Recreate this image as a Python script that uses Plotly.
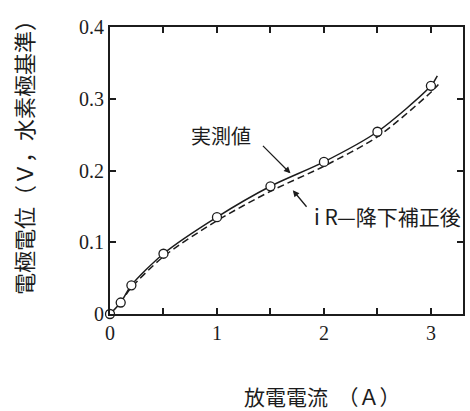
import plotly.graph_objects as go

# measured points (open circles)
current_A = [0.0, 0.1, 0.2, 0.5, 1.0, 1.5, 2.0, 2.5, 3.0]
potential_V = [0.0, 0.016, 0.040, 0.084, 0.135, 0.178, 0.212, 0.254, 0.318]

# solid curve (measured), slightly extended beyond last point
solid_x = [0.0, 0.1, 0.2, 0.5, 1.0, 1.5, 2.0, 2.5, 3.0, 3.06]
solid_y = [0.0, 0.016, 0.040, 0.084, 0.135, 0.178, 0.212, 0.254, 0.318, 0.332]

# dashed curve (after iR-drop correction)
dash_x = [0.15, 0.2, 0.5, 1.0, 1.5, 2.0, 2.5, 3.0, 3.07]
dash_y = [0.027, 0.037, 0.080, 0.130, 0.171, 0.206, 0.247, 0.309, 0.320]

x_tickvals = [0, 0.5, 1, 1.5, 2, 2.5, 3]
x_ticktext = ["0", "", "1", "", "2", "", "3"]
y_tickvals = [0, 0.1, 0.2, 0.3, 0.4]
y_ticktext = ["0", "0.1", "0.2", "0.3", "0.4"]

label_measured = "実測値"
label_corrected = "i R—降下補正後"
x_title = "放電電流\u00a0\u00a0（Ａ）"
y_title = "電極電位（Ｖ，水素極基準）"

ink = "#1c1c1c"
num_font = dict(family="Liberation Serif", size=20, color=ink)
cjk_font = dict(family="Noto Sans CJK JP", size=20, color=ink)

fig = go.Figure()
fig.add_trace(go.Scatter(x=dash_x, y=dash_y, mode="lines",
                         line=dict(color=ink, width=1.5, dash="7px,4px", shape="spline", smoothing=0.8),
                         hoverinfo="skip", showlegend=False))
fig.add_trace(go.Scatter(x=solid_x, y=solid_y, mode="lines",
                         line=dict(color=ink, width=1.5, shape="spline", smoothing=0.8),
                         hoverinfo="skip", showlegend=False))
fig.add_trace(go.Scatter(x=current_A, y=potential_V, mode="markers",
                         marker=dict(symbol="circle", size=9, color="white",
                                     line=dict(color=ink, width=1.3)),
                         cliponaxis=False, showlegend=False))

axis_common = dict(showgrid=False, zeroline=False, showline=True, linecolor=ink, linewidth=1.8,
                   mirror="ticks", ticks="inside", ticklen=6, tickwidth=1.5, tickcolor=ink,
                   tickfont=num_font)
fig.update_xaxes(range=[0, 3.3], tickvals=x_tickvals, ticktext=x_ticktext, **axis_common)
fig.update_yaxes(range=[0, 0.4], tickvals=y_tickvals, ticktext=y_ticktext, **axis_common)

annotations = [
    dict(x=1.036, y=0.249, xref="x", yref="y", text=label_measured, showarrow=False,
         font=cjk_font, xanchor="center", yanchor="middle"),
    dict(x=1.687, y=0.196, xref="x", yref="y", text="", showarrow=True,
         ax=-29, ay=-29, arrowhead=2, arrowsize=1, arrowwidth=1.3, arrowcolor=ink),
    dict(x=1.886, y=0.136, xref="x", yref="y", text=label_corrected, showarrow=False,
         font=dict(family="Noto Sans CJK JP", size=21, color=ink), xanchor="left", yanchor="middle"),
    dict(x=1.709, y=0.1725, xref="x", yref="y", text="", showarrow=True,
         ax=15, ay=18, arrowhead=2, arrowsize=1, arrowwidth=1.3, arrowcolor=ink),
    dict(x=0.60, y=-0.285, xref="paper", yref="paper", text=x_title, showarrow=False,
         font=dict(family="Noto Sans CJK JP", size=21, color=ink), xanchor="center", yanchor="middle"),
    dict(x=-0.246, y=0.565, xref="paper", yref="paper", text=y_title, showarrow=False,
         font=dict(family="Noto Sans CJK JP", size=22, color=ink), textangle=-90,
         xanchor="center", yanchor="middle"),
]

fig.update_layout(width=470, height=411, margin=dict(l=110, r=5, t=27, b=97),
                  paper_bgcolor="white", plot_bgcolor="white",
                  annotations=annotations, showlegend=False)

fig.write_html("out.html")
